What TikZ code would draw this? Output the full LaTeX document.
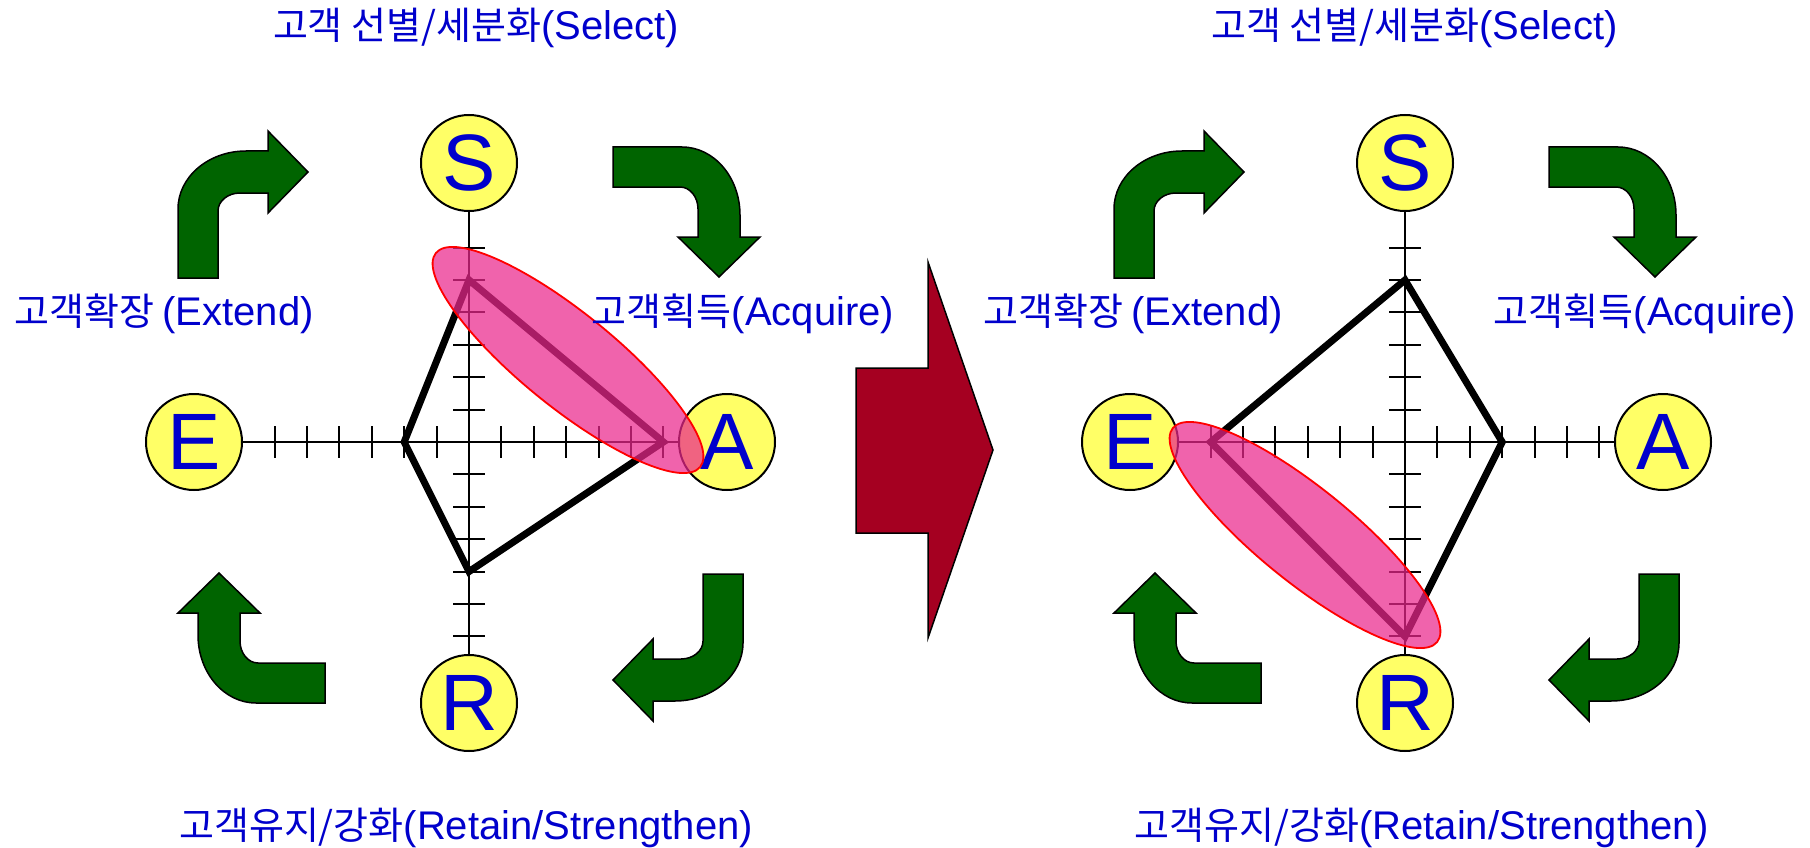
\documentclass[tikz,border=0pt]{standalone}
\usepackage{fontspec}
\setmainfont{Liberation Sans}
\newfontfamily\krfont{Noto Sans CJK KR}
\usetikzlibrary{calc}
\definecolor{txtblue}{RGB}{0,0,204}
\definecolor{circfill}{RGB}{255,255,102}
\definecolor{arrgreen}{RGB}{0,100,0}
\definecolor{bigred}{RGB}{165,0,33}
\definecolor{ellpink}{RGB}{235,40,140}
\newcommand\lbltext[2]{{\krfont\fontsize{38}{44}\selectfont #1}{\fontsize{40}{44}\selectfont #2}}
\newcommand\greenpath{(0,127) -- (0,58) .. controls (0,26) and (30.4,0) .. (68,0) -- (90,0) -- (90,-20) -- (130,21) -- (90,62) -- (90,42) -- (62,42) .. controls (49.8,42) and (40,50.1) .. (40,60) -- (40,127) -- cycle}
\begin{document}
\begin{tikzpicture}[x=1pt,y=-1pt,
  letter/.style={circle, draw=black, line width=2pt, fill=circfill, minimum size=96pt, inner sep=0pt, text=txtblue, font=\fontsize{80}{80}\selectfont},
  axisline/.style={draw=black, line width=2pt},
  polyline/.style={draw=black, line width=7pt, line join=miter},
  ellshape/.style={draw=red, line width=1.8pt, fill=ellpink, fill opacity=0.72},
  garrow/.style={draw=black, line width=1.5pt, fill=arrgreen},
  bigarrow/.style={draw=black, line width=1.5pt, fill=bigred},
  label/.style={text=txtblue, inner sep=0pt, anchor=center}]
\useasboundingbox (0,0) rectangle (1810,848);
\fill[white] (0,0) rectangle (1810,848);

\foreach \dx/\sf in {0/L, 936/R}{
  \begin{scope}[shift={(\dx,0)}]
    \node[letter] (S\sf) at (469,163) {S};
    \node[letter] (E\sf) at (194,442) {E};
    \node[letter] (A\sf) at (727,442) {A};
    \node[letter] (R\sf) at (469,703) {R};
    \draw[axisline] (S\sf) -- (R\sf);
    \draw[axisline] (E\sf) -- (A\sf);
    \foreach \k in {-6,...,-1,1,2,...,6}{
      \draw[axisline] (469+\k*32.4, 426) -- (469+\k*32.4, 458);
      \draw[axisline] (453, 442+\k*32.4) -- (485, 442+\k*32.4);
    }
    \draw[garrow] [shift={(178,151)}] \greenpath;
    \draw[garrow] [shift={(740,147)}, rotate=-90] \greenpath;
    \draw[garrow] [shift={(743,701)}, rotate=180] \greenpath;
    \draw[garrow] [shift={(198,703)}, rotate=90] \greenpath;
  \end{scope}
}

% left polygon
\coordinate (pSL) at (469,280);
\coordinate (pAL) at (663.4,442);
\coordinate (pRL) at (469,571.6);
\coordinate (pEL) at (404.2,442);
\draw[polyline] (pSL) -- (pAL) -- (pRL) -- (pEL) -- cycle;
% right polygon
\coordinate (pSR) at (1405,280);
\coordinate (pAR) at (1502.2,442);
\coordinate (pRR) at (1405,636.4);
\coordinate (pER) at (1210.6,442);
\draw[polyline] (pSR) -- (pAR) -- (pRR) -- (pER) -- cycle;

% ellipses
\begin{scope}[shift={(568,360)}, rotate=-39]
  \draw[ellshape] (0,0) ellipse [x radius=170pt, y radius=47pt];
\end{scope}
\begin{scope}[shift={(1305,535)}, rotate=-39]
  \draw[ellshape] (0,0) ellipse [x radius=170pt, y radius=47pt];
\end{scope}

% middle arrow
\draw[bigarrow] (856,368) -- (928,368) -- (928,262) -- (993,450) -- (928,638) -- (928,533) -- (856,533) -- cycle;

% labels
\node[label] (selL) at (476,28) {\lbltext{고객 선별/세분화}{(Select)}};
\node[label] (extL) at (164,314) {\lbltext{고객확장 }{(Extend)}};
\node[label] (acqL) at (743,314) {\lbltext{고객획득}{(Acquire)}};
\node[label] (retL) at (466,828) {\lbltext{고객유지/강화}{(Retain/Strengthen)}};
\node[label] (selR) at (1414.5,28) {\lbltext{고객 선별/세분화}{(Select)}};
\node[label] (extR) at (1133,314) {\lbltext{고객확장 }{(Extend)}};
\node[label] (acqR) at (1645,314) {\lbltext{고객획득}{(Acquire)}};
\node[label] (retR) at (1421.5,828) {\lbltext{고객유지/강화}{(Retain/Strengthen)}};
\end{tikzpicture}
\end{document}
